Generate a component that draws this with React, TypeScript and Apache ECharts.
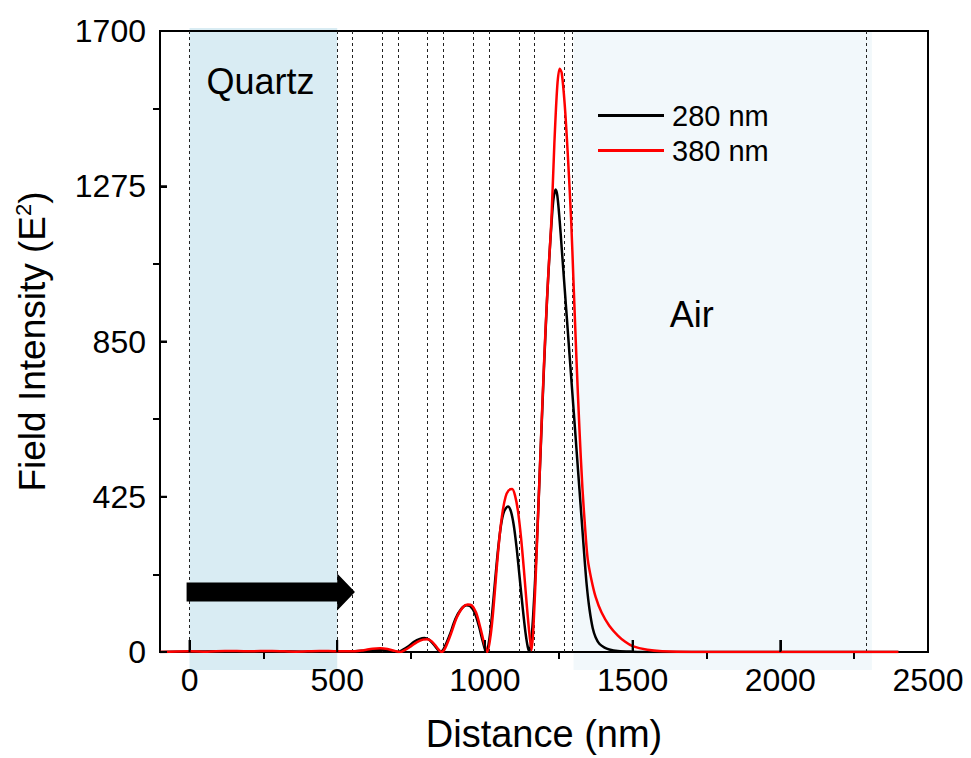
import React, { useEffect, useRef } from "react";
import * as echarts from "echarts";

const FONT = "Liberation Sans, Arial, Helvetica, sans-serif";

const xTicks = [0, 500, 1000, 1500, 2000, 2500];
const xMinorTicks = [250, 750, 1250, 1750, 2250];
const yTicks = [0, 425, 850, 1275, 1700];
const yMinorTicks = [212.5, 637.5, 1062.5, 1487.5];
const layerBoundaries = [0, 500, 552, 654, 706, 806, 860, 961, 1014, 1115, 1167, 1270, 1294, 2292];
const quartzRange = [0, 500];
const airRange = [1300, 2310];

const black280: [number, number][] = [
  [-100, 0], [0, 1], [100, 2], [200, 1], [300, 2], [400, 1], [500, 2], [560, 2], [600, 4], [640, 6], [680, 4],
  [706, 0], [720, 5], [740, 15], [760, 28], [780, 36], [795, 38], [810, 34], [825, 22], [838, 9], [848, 0],
  [860, 8], [880, 45], [900, 90], [920, 118], [938, 128], [950, 126], [965, 108], [980, 70], [993, 28], [1004, 0],
  [1015, 35], [1025, 110], [1035, 200], [1045, 285], [1055, 350], [1065, 385], [1078, 398], [1088, 385],
  [1098, 345], [1108, 280], [1118, 200], [1128, 120], [1137, 55], [1145, 14], [1151, 2],
  [1160, 60], [1170, 200], [1180, 380], [1190, 580], [1200, 780], [1210, 960], [1218, 1080], [1226, 1181],
  [1232, 1240], [1239, 1266], [1245, 1250], [1253, 1181], [1260, 1105], [1270, 995], [1280, 885], [1290, 775],
  [1300, 665], [1310, 555], [1320, 445], [1330, 335], [1337, 258], [1345, 180], [1354, 117], [1365, 65],
  [1375, 40], [1388, 22], [1405, 12], [1421, 7], [1450, 3], [1500, 1], [1550, 0], [2000, 0], [2400, 0],
];

const red380: [number, number][] = [
  [-100, 0], [0, 2], [60, 1], [120, 3], [200, 2], [280, 3], [360, 1], [440, 3], [500, 2], [560, 2], [590, 5],
  [620, 9], [645, 10], [670, 8], [695, 3], [712, 0], [730, 6], [750, 16], [770, 27], [790, 34], [805, 35],
  [820, 29], [835, 15], [845, 5], [853, 0], [865, 10], [885, 50], [905, 95], [925, 122], [942, 130], [955, 128],
  [970, 108], [985, 65], [998, 22], [1008, 0], [1020, 50], [1030, 130], [1040, 230], [1050, 320], [1060, 385],
  [1070, 425], [1080, 442], [1092, 446], [1102, 428], [1112, 385], [1122, 315], [1132, 225], [1141, 135],
  [1150, 55], [1158, 5], [1165, 80], [1175, 270], [1185, 480], [1195, 690], [1205, 880], [1215, 1040],
  [1225, 1181], [1235, 1390], [1245, 1550], [1253, 1597], [1260, 1585], [1270, 1500], [1280, 1370],
  [1292, 1181], [1300, 1010], [1310, 800], [1320, 610], [1330, 450], [1340, 330], [1348, 254], [1360, 200],
  [1375, 150], [1395, 108], [1421, 72], [1450, 45], [1475, 28], [1500, 16], [1550, 6], [1600, 2], [1700, 0],
  [2400, 0],
];

const plain = (v: number) => String(v);

export default function App() {
  const ref = useRef<HTMLDivElement>(null);
  useEffect(() => {
    const chart = echarts.init(ref.current!, null, { renderer: "svg" });
    const tickAxisX = (values: number[], length: number) => ({
      type: "value", min: -100, max: 2500, position: "bottom",
      axisLine: { show: false, onZero: false },
      axisTick: { show: true, inside: false, length, customValues: values, lineStyle: { color: "#000", width: 2 } },
      axisLabel: { show: false },
      splitLine: { show: false },
    });
    const tickAxisY = (values: number[], length: number) => ({
      type: "value", min: 0, max: 1700, position: "left",
      axisLine: { show: false, onZero: false },
      axisTick: { show: true, inside: false, length, customValues: values, lineStyle: { color: "#000", width: 2 } },
      axisLabel: { show: false },
      splitLine: { show: false },
    });
    const option: any = {
      animation: false,
      backgroundColor: "#fff",
      textStyle: { fontFamily: FONT, color: "#000" },
      grid: {
        left: 160, top: 31, right: 43, bottom: 105,
        show: true, borderColor: "#000", borderWidth: 2, backgroundColor: "transparent",
      },
      legend: {
        data: ["280 nm", "380 nm"],
        orient: "vertical",
        left: 593,
        top: 96,
        icon: "rect",
        itemWidth: 66,
        itemHeight: 3,
        itemGap: 6,
        textStyle: { fontSize: 29, fontFamily: FONT, color: "#000", lineHeight: 29, padding: [0, 0, 0, 3] },
      },
      xAxis: [
        {
          type: "value", min: -100, max: 2500,
          name: "Distance (nm)", nameLocation: "middle", nameGap: 63,
          nameTextStyle: { fontSize: 38, fontFamily: FONT, color: "#000" },
          axisLine: { show: true, onZero: false, lineStyle: { color: "#000", width: 2 } },
          axisTick: { show: false },
          axisLabel: { show: true, customValues: xTicks, formatter: plain, fontSize: 32, fontFamily: FONT, color: "#000", margin: 12 },
          splitLine: { show: false },
        },
        tickAxisX(xMinorTicks, 7),
        tickAxisX(xTicks, -12),
      ],
      yAxis: [
        {
          type: "value", min: 0, max: 1700, interval: 425,
          name: "Field Intensity (E{sup|2})", nameLocation: "middle", nameGap: 108, nameRotate: 90,
          nameTextStyle: {
            fontSize: 37, fontFamily: FONT, color: "#000",
            rich: { sup: { fontSize: 22, fontFamily: FONT, color: "#000", verticalAlign: "top", padding: [0, 0, 18, 0] } },
          },
          axisLine: { show: true, onZero: false, lineStyle: { color: "#000", width: 2 } },
          axisTick: { show: false },
          axisLabel: { show: true, customValues: yTicks, formatter: plain, fontSize: 32, fontFamily: FONT, color: "#000", margin: 14 },
          splitLine: { show: false },
        },
        tickAxisY(yMinorTicks, 7),
        tickAxisY(yTicks, -7),
      ],
      series: [
        {
          type: "line", name: "280 nm", data: black280, symbol: "none", smooth: 0.3,
          xAxisIndex: 0, yAxisIndex: 0,
          lineStyle: { color: "#000", width: 2.5 }, itemStyle: { color: "#000" }, z: 3,
          markLine: {
            silent: true, symbol: ["none", "none"], label: { show: false },
            lineStyle: { type: [3, 3], color: "#222", width: 1 },
            data: layerBoundaries.map((x) => ({ xAxis: x })),
            z: 1,
          },
        },
        {
          type: "line", name: "380 nm", data: red380, symbol: "none", smooth: 0.3,
          xAxisIndex: 0, yAxisIndex: 0,
          lineStyle: { color: "#f00", width: 2.5 }, itemStyle: { color: "#f00" }, z: 4,
        },
      ],
    };
    chart.setOption(option);

    const px = (x: number, y: number) => chart.convertToPixel({ seriesIndex: 0 }, [x, y]) as number[];
    const top = px(0, 1700)[1];
    const bottom = px(0, 0)[1];
    const left = px(-100, 0)[0];
    const q0 = px(quartzRange[0], 0)[0];
    const q1 = px(quartzRange[1], 0)[0];
    const a0 = px(airRange[0], 0)[0];
    const a1 = px(airRange[1], 0)[0];
    const arrowStart = px(-10, 164);
    const arrowHead = px(500, 164);
    const arrowTip = px(560, 164);
    const yc = arrowStart[1];
    const quartzLabel = px(240, 1563);
    const airLabel = px(1700, 925);

    const majorTicks: any[] = [
      ...xTicks.map((v) => {
        const x = px(v, 0)[0];
        return { type: "rect", z: 100, silent: true, shape: { x: x - 1, y: bottom - 12, width: 2, height: 12 }, style: { fill: "#000" } };
      }),
      ...yTicks.map((v) => {
        const y = px(0, v)[1];
        return { type: "rect", z: 100, silent: true, shape: { x: left, y: y - 1, width: 7, height: 2 }, style: { fill: "#000" } };
      }),
    ];

    chart.setOption({
      graphic: [
        { type: "rect", z: -10, silent: true, shape: { x: q0, y: top - 3, width: q1 - q0, height: bottom - top + 21 }, style: { fill: "#d9ecf3" } },
        { type: "rect", z: -10, silent: true, shape: { x: a0, y: top - 1, width: a1 - a0, height: bottom - top + 19 }, style: { fill: "#f2f8fb" } },
        ...majorTicks,
        {
          type: "polygon", z: 10, silent: true,
          shape: {
            points: [
              [arrowStart[0], yc - 9.5], [arrowHead[0], yc - 9.5], [arrowHead[0], yc - 18.5], [arrowTip[0], yc],
              [arrowHead[0], yc + 18.5], [arrowHead[0], yc + 9.5], [arrowStart[0], yc + 9.5],
            ],
          },
          style: { fill: "#000" },
        },
        {
          type: "text", z: 10, silent: true, x: quartzLabel[0], y: quartzLabel[1],
          style: { text: "Quartz", fontSize: 36, fontFamily: FONT, fill: "#000", align: "center", verticalAlign: "middle" },
        },
        {
          type: "text", z: 10, silent: true, x: airLabel[0], y: airLabel[1],
          style: { text: "Air", fontSize: 36, fontFamily: FONT, fill: "#000", align: "center", verticalAlign: "middle" },
        },
      ],
    });
    return () => chart.dispose();
  }, []);
  return <div ref={ref} style={{ position: "fixed", left: 0, top: 0, width: 971, height: 758 }} />;
}
